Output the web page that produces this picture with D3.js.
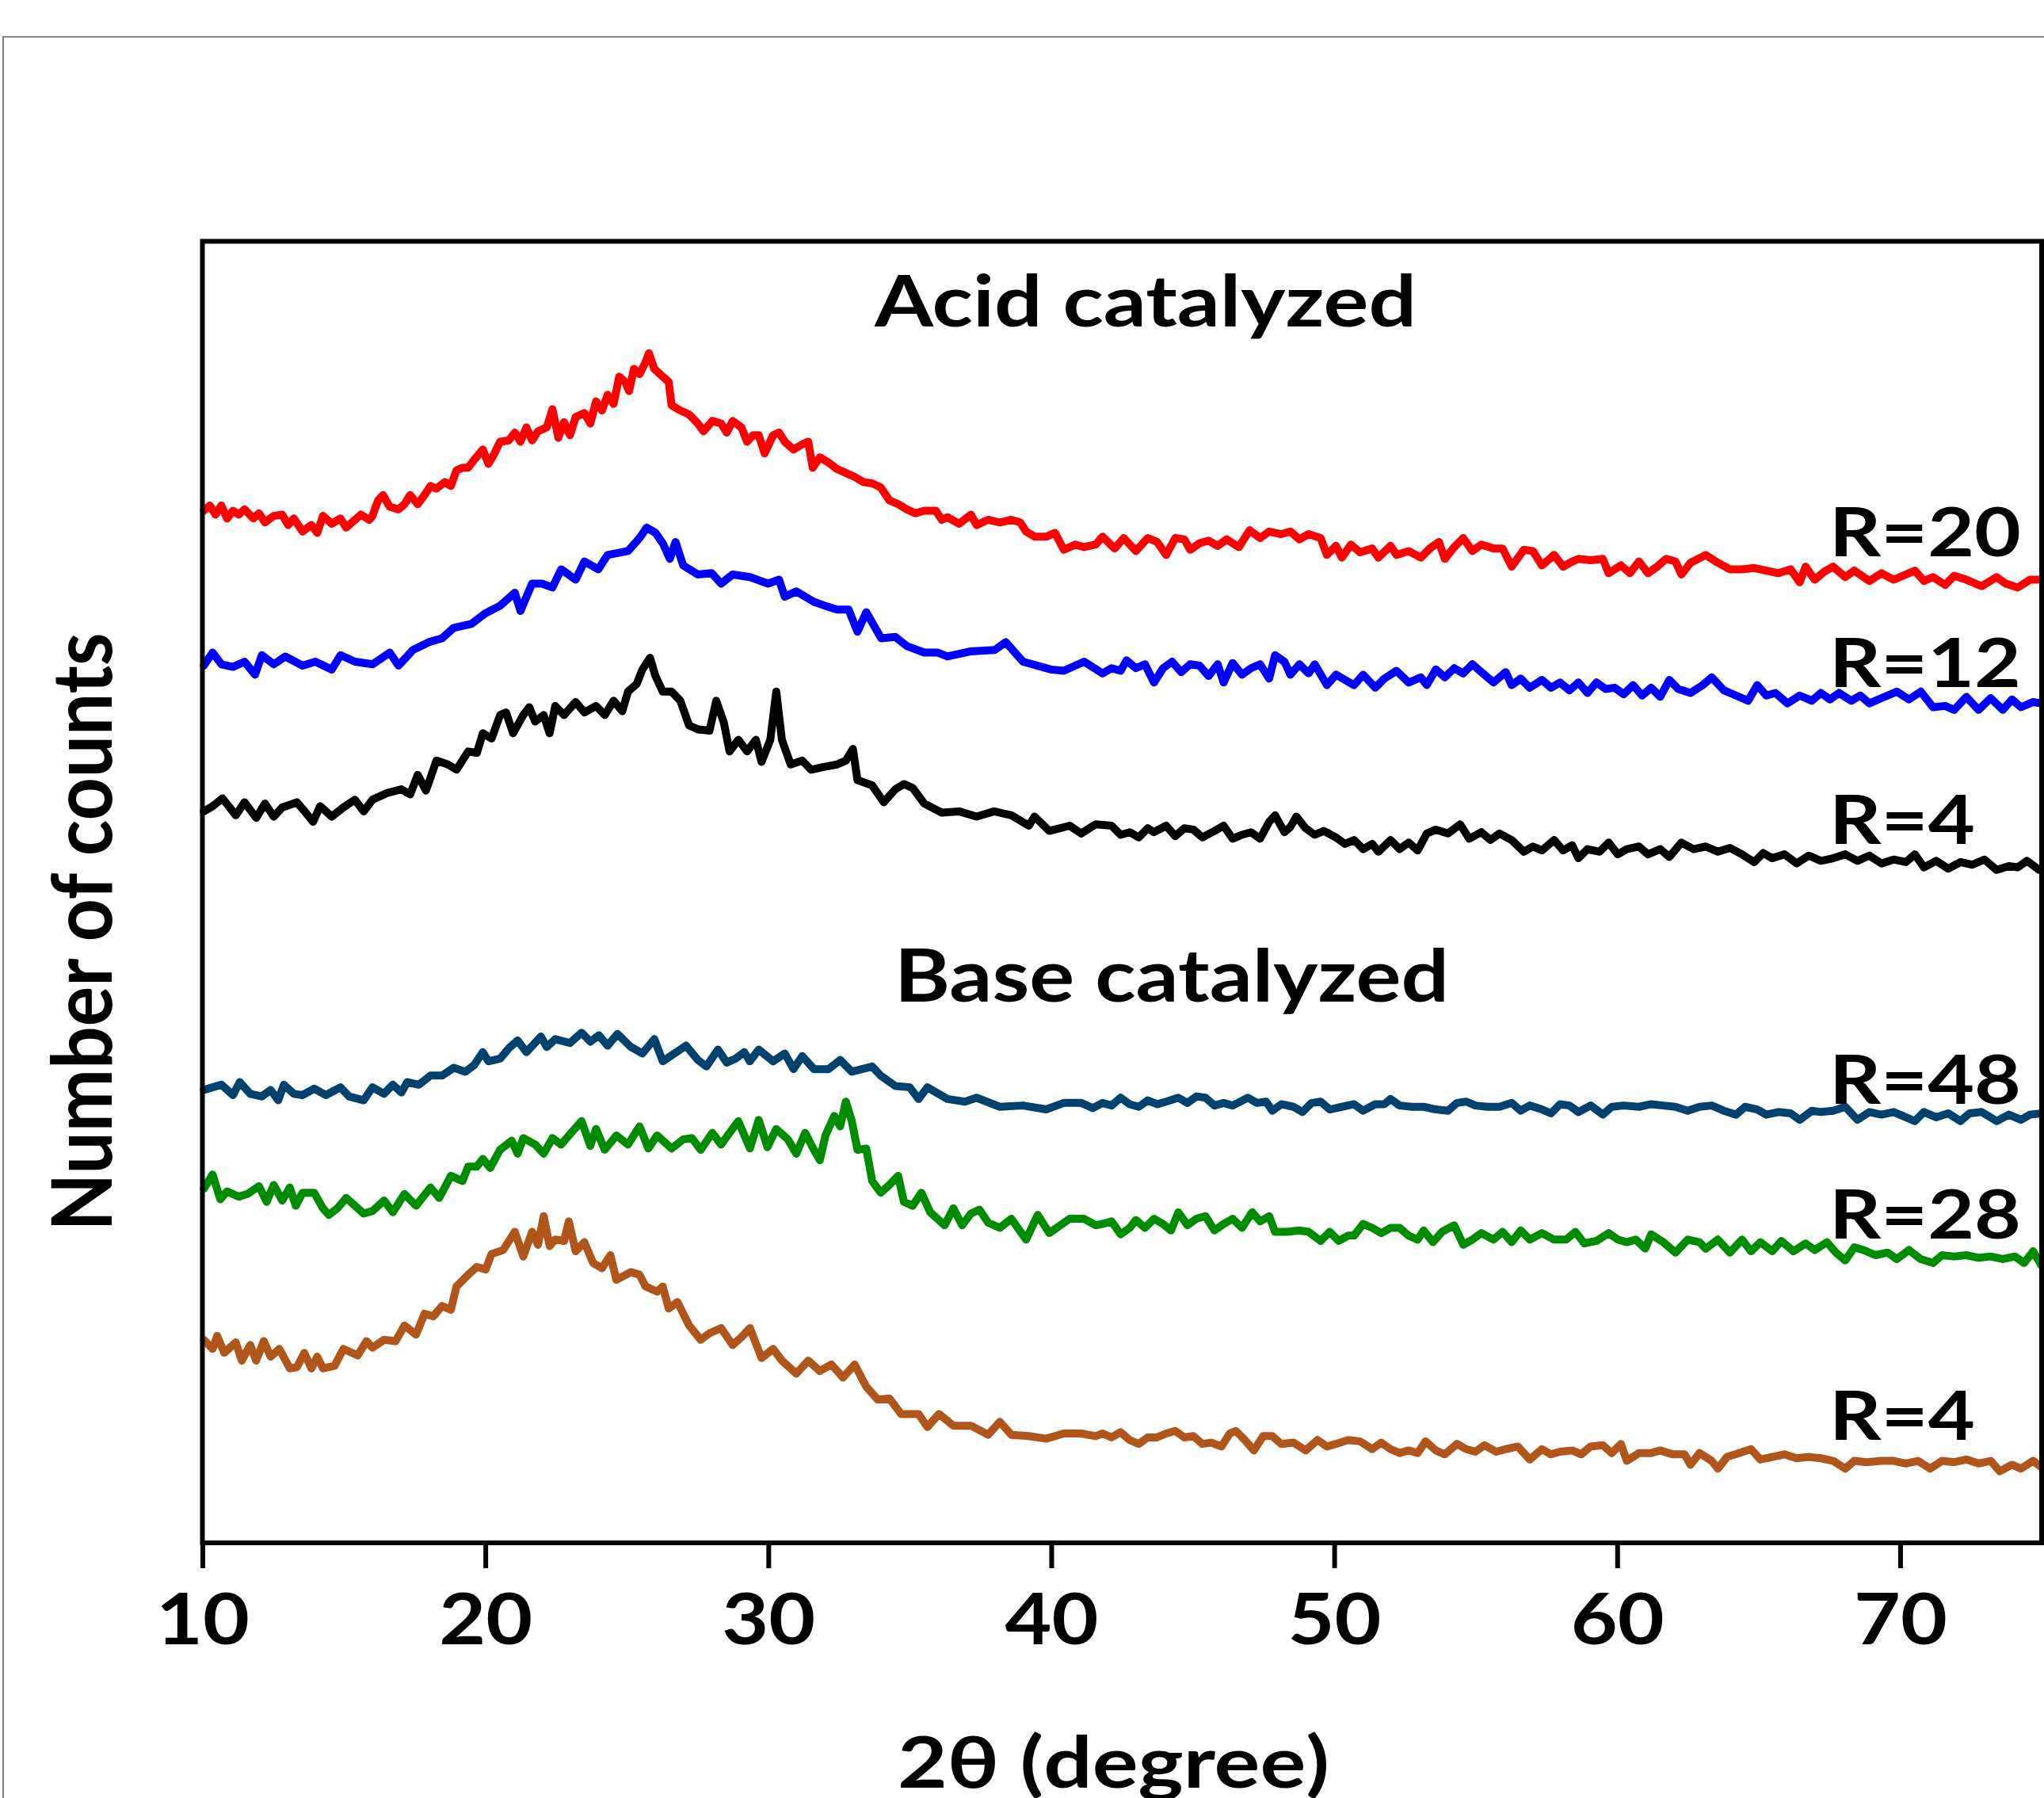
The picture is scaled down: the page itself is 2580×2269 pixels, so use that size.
<!DOCTYPE html>
<html>
<head>
<meta charset="utf-8">
<script src="https://cdn.jsdelivr.net/npm/d3@7/dist/d3.min.js"></script>
<style>
  html, body { margin: 0; padding: 0; background: #fff; }
  svg { display: block; }
  text { font-family: Lato, "Open Sans", "DejaVu Sans", sans-serif; font-weight: bold; fill: #000; }
</style>
</head>
<body>
<svg id="chart"></svg>
<script>
// ---- data (2theta in degree, counts in arbitrary stacked units) ----
const xTicks = [10, 20, 30, 40, 50, 60, 70];
const seriesNames = ['R=20', 'R=12', 'R=4', 'R=48', 'R=28', 'R=4'];
const groupTitles = ['Acid catalyzed', 'Base catalyzed'];

const acidR20 = [[10.05,793],[10.26,797],[10.46,790],[10.67,797],[10.87,787],[11.08,793],[11.28,790],[11.49,794],[11.80,787],[12.00,791],[12.21,784],[12.52,789],[12.82,790],[13.03,782],[13.23,787],[13.54,777],[13.85,782],[14.06,776],[14.26,789],[14.57,783],[14.88,787],[15.08,780],[15.29,784],[15.60,790],[15.90,786],[16.01,789],[16.21,801],[16.38,805],[16.62,796],[16.93,794],[17.14,798],[17.34,805],[17.61,798],[17.85,805],[18.06,812],[18.27,810],[18.57,815],[18.78,812],[18.98,824],[19.19,826],[19.39,826],[19.60,832],[19.91,840],[20.11,829],[20.32,837],[20.52,846],[20.83,847],[21.04,853],[21.24,846],[21.45,857],[21.65,847],[21.86,854],[22.17,857],[22.37,871],[22.58,849],[22.78,861],[22.99,851],[23.19,865],[23.50,868],[23.71,860],[23.91,877],[24.12,870],[24.32,882],[24.53,875],[24.73,896],[24.94,892],[25.08,885],[25.25,902],[25.45,898],[25.66,907],[25.78,914],[25.97,902],[26.27,896],[26.48,892],[26.58,874],[26.89,870],[27.20,867],[27.51,860],[27.71,854],[28.02,862],[28.33,860],[28.53,853],[28.74,862],[29.05,857],[29.25,846],[29.46,851],[29.66,851],[29.87,837],[30.17,851],[30.38,853],[30.58,846],[30.89,840],[31.20,844],[31.41,846],[31.57,826],[31.82,834],[32.13,830],[32.43,825],[32.74,822],[33.05,819],[33.36,815],[33.67,814],[33.97,811],[34.28,801],[34.59,798],[34.90,794],[35.20,791],[35.51,793],[35.92,793],[36.13,786],[36.33,788],[36.74,783],[37.16,790],[37.36,782],[37.77,786],[38.18,784],[38.59,786],[38.90,784],[39.11,777],[39.41,773],[39.82,773],[40.13,776],[40.44,763],[40.85,767],[41.16,765],[41.57,767],
  [41.81,773],[42.24,764],[42.56,772],[42.99,762],[43.41,772],[43.74,769],[44.06,759],[44.38,772],[44.70,771],[44.91,763],[45.24,768],[45.56,770],[45.88,766],[46.20,771],[46.63,765],[47.01,778],[47.38,772],[47.70,777],[48.13,775],[48.45,777],[48.77,771],[49.09,775],[49.52,772],[49.74,759],[50.06,766],[50.27,757],[50.59,767],[50.91,761],[51.34,764],[51.56,757],[51.99,766],[52.20,759],[52.63,762],[53.06,757],[53.38,764],[53.70,769],[53.91,756],[54.24,765],[54.56,772],[54.88,762],[55.20,767],[55.63,764],[55.95,764],[56.27,750],[56.70,763],[57.02,762],[57.34,751],[57.77,759],[58.09,750],[58.41,754],[58.63,756],[59.06,755],[59.49,756],[59.70,745],[60.13,751],[60.45,745],[60.77,754],[61.09,745],[61.41,750],[61.73,756],[62.06,754],[62.27,744],[62.59,753],[63.13,759],[63.56,753],[63.98,748],[64.41,748],[64.84,749],[65.27,747],[65.70,745],[66.13,748],[66.45,738],[66.66,750],[66.98,740],[67.31,746],[67.63,750],[68.06,742],[68.38,747],[68.91,739],[69.34,745],[69.77,740],[70.20,744],[70.52,747],[70.84,739],[71.16,742],[71.59,736],[71.91,743],[72.34,740],[72.88,735],[73.41,742],[73.73,737],[74.16,734],[74.59,740],[75.00,740]];

const acidR12 = [[10.05,674],[10.36,684],[10.67,675],[11.08,673],[11.49,677],[11.86,667],[12.10,682],[12.52,675],[12.93,681],[13.54,674],[13.99,677],[14.57,671],[14.88,682],[15.39,677],[16.01,675],[16.62,684],[16.93,674],[17.44,686],[18.00,692],[18.47,695],[18.88,703],[19.50,706],[19.99,714],[20.52,720],[21.04,730],[21.24,716],[21.65,737],[22.00,737],[22.37,734],[22.68,748],[23.19,740],[23.50,754],[23.99,748],[24.32,759],[25.04,762],[25.45,772],[25.70,780],[26.01,776],[26.27,768],[26.52,756],[26.72,769],[26.99,751],[27.51,744],[28.00,745],[28.33,737],[28.74,744],[29.35,742],[29.99,737],[30.38,740],[30.58,727],[30.99,731],[31.61,723],[32.00,720],[32.43,717],[32.84,717],[33.15,700],[33.46,715],[33.99,695],[34.49,696],[34.90,689],[35.51,684],[35.99,684],[36.33,681],[37.16,685],[38.00,686],[38.39,692],[39.00,677],[39.99,671],[40.44,670],[41.16,677],
  [41.81,668],[42.13,672],[42.45,670],[42.66,678],[42.99,672],[43.31,675],[43.63,661],[43.95,672],[44.27,677],[44.59,669],[44.91,675],[45.24,674],[45.56,666],[45.88,675],[46.09,661],[46.41,676],[46.74,667],[47.06,672],[47.38,675],[47.70,664],[47.91,682],[48.24,677],[48.45,667],[48.77,675],[49.09,668],[49.31,675],[49.74,659],[50.06,667],[50.38,663],[50.70,659],[51.02,667],[51.45,657],[51.77,664],[52.20,670],[52.63,661],[53.06,665],[53.27,659],[53.59,671],[53.91,665],[54.24,672],[54.56,668],[54.88,675],[55.31,667],[55.63,661],[56.06,669],[56.27,659],[56.59,664],[56.91,657],[57.34,663],[57.66,657],[57.98,661],[58.31,655],[58.63,661],[58.95,653],[59.27,661],[59.59,656],[59.91,657],[60.23,652],[60.56,659],[60.88,651],[61.20,657],[61.52,650],[61.84,663],[62.16,656],[62.59,653],[63.02,659],[63.34,665],[63.77,655],[64.20,651],[64.63,647],[64.95,659],[65.27,651],[65.59,653],[66.02,645],[66.45,651],[66.88,647],[67.20,653],[67.52,648],[67.84,653],[68.27,647],[68.59,651],[68.91,645],[69.34,649],[69.88,654],[70.31,648],[70.73,654],[71.16,642],[71.59,643],[71.91,640],[72.34,650],[72.77,640],[73.20,649],[73.63,640],[73.95,648],[74.27,642],[74.70,646],[75.00,645]];

const acidR4 = [[10.05,562],[10.36,566],[10.71,572],[11.18,559],[11.49,569],[11.90,557],[12.21,568],[12.52,558],[12.82,565],[13.34,569],[13.65,561],[13.91,554],[14.16,566],[14.57,558],[14.98,565],[15.39,571],[15.70,562],[16.01,571],[16.52,576],[17.03,579],[17.34,575],[17.61,590],[17.90,578],[18.27,601],[18.68,598],[18.98,594],[19.39,608],[19.70,607],[19.91,622],[20.22,618],[20.52,636],[20.73,638],[20.98,622],[21.34,636],[21.55,642],[21.76,631],[22.06,636],[22.27,622],[22.47,643],[22.78,636],[23.19,646],[23.50,638],[23.91,643],[24.22,636],[24.53,647],[24.84,639],[25.04,654],[25.35,660],[25.55,671],[25.82,680],[26.01,666],[26.27,654],[26.58,654],[26.89,647],[27.20,628],[27.51,625],[27.92,624],[28.16,647],[28.43,630],[28.63,608],[28.94,617],[29.25,608],[29.56,617],[29.76,600],[30.07,617],[30.28,654],[30.48,617],[30.79,598],[31.20,601],[31.51,594],[31.92,596],[32.43,598],[32.74,601],[32.99,610],[33.15,586],[33.67,582],[34.08,569],[34.49,579],[34.79,583],[35.10,580],[35.51,568],[36.13,561],[36.74,562],[37.36,558],[37.98,562],[38.59,559],[39.21,551],[39.41,558],[39.93,547],[40.65,551],[41.06,545],[41.57,552],
  [42.13,551],[42.45,544],[42.77,546],[43.09,542],[43.41,549],[43.63,546],[44.06,551],[44.38,543],[44.70,549],[45.02,548],[45.34,542],[45.77,547],[46.09,551],[46.41,541],[46.74,544],[47.06,546],[47.38,541],[47.70,554],[47.91,559],[48.24,546],[48.45,550],[48.66,558],[48.99,549],[49.31,544],[49.63,547],[50.06,542],[50.38,537],[50.70,540],[51.02,533],[51.34,537],[51.56,531],[51.99,540],[52.31,533],[52.63,538],[52.95,532],[53.27,545],[53.59,548],[54.02,545],[54.45,552],[54.77,541],[55.20,546],[55.52,540],[55.84,545],[56.27,540],[56.70,531],[57.02,535],[57.34,532],[57.77,540],[58.09,532],[58.41,536],[58.63,526],[58.95,533],[59.38,531],[59.70,538],[60.02,529],[60.34,533],[60.77,535],[61.09,529],[61.52,533],[61.84,527],[62.27,538],[62.70,533],[63.13,535],[63.56,531],[63.98,534],[64.41,529],[64.84,523],[65.16,530],[65.48,526],[65.91,529],[66.34,522],[66.77,528],[67.20,524],[67.63,526],[68.06,529],[68.49,524],[68.91,528],[69.34,522],[69.77,525],[70.20,523],[70.52,529],[70.84,519],[71.27,524],[71.70,518],[72.13,523],[72.55,521],[72.98,525],[73.41,517],[73.84,520],[74.16,519],[74.48,524],[74.91,517]];

const baseR48 = [[10.05,348],[10.36,350],[10.67,352],[11.08,344],[11.32,354],[11.69,345],[12.10,343],[12.41,348],[12.68,340],[12.88,352],[13.23,345],[13.54,344],[13.95,349],[14.36,344],[14.88,350],[15.18,343],[15.70,340],[16.01,350],[16.42,345],[16.73,352],[17.03,346],[17.24,354],[17.65,352],[18.06,359],[18.47,359],[18.88,365],[19.29,362],[19.60,367],[19.91,377],[20.11,370],[20.52,372],[20.83,380],[21.14,386],[21.45,377],[21.96,389],[22.17,381],[22.47,387],[22.99,384],[23.40,392],[23.71,385],[24.01,390],[24.32,382],[24.67,391],[25.14,381],[25.55,376],[25.97,387],[26.27,370],[26.68,376],[27.09,382],[27.51,371],[27.81,366],[28.22,379],[28.53,369],[28.84,372],[29.15,377],[29.35,370],[29.66,379],[30.17,370],[30.58,376],[30.89,364],[31.20,374],[31.61,364],[32.13,364],[32.54,371],[32.95,362],[33.67,366],[33.97,359],[34.49,351],[35.00,350],[35.31,341],[35.62,350],[36.33,341],[36.95,339],[37.36,342],[38.18,335],[39.00,336],[39.82,333],[40.44,338],[41.06,338],[41.47,334],
  [41.81,338],[42.13,336],[42.45,342],[42.77,337],[43.09,335],[43.41,340],[43.74,337],[44.06,339],[44.49,342],[44.81,338],[45.13,343],[45.45,342],[45.77,336],[46.09,338],[46.41,336],[46.95,342],[47.27,338],[47.59,339],[47.81,332],[48.13,337],[48.56,335],[48.88,331],[49.20,338],[49.52,339],[49.84,333],[50.27,335],[50.70,337],[51.02,332],[51.45,337],[51.77,337],[51.99,341],[52.31,336],[52.74,335],[53.16,335],[53.59,333],[54.02,332],[54.34,338],[54.66,339],[54.99,336],[55.41,335],[55.84,335],[56.27,338],[56.59,332],[56.91,336],[57.34,333],[57.66,330],[57.98,337],[58.31,336],[58.63,331],[59.06,336],[59.49,329],[59.81,335],[60.23,336],[60.77,335],[61.20,337],[61.63,336],[62.06,335],[62.49,332],[62.91,335],[63.34,336],[63.77,332],[64.20,329],[64.52,335],[64.95,333],[65.27,329],[65.70,331],[66.13,330],[66.45,325],[66.88,332],[67.20,331],[67.63,332],[68.06,335],[68.49,325],[68.91,331],[69.34,329],[69.77,331],[70.20,327],[70.52,324],[70.84,331],[71.27,327],[71.70,330],[72.13,324],[72.45,330],[72.88,331],[73.41,324],[73.84,329],[74.27,325],[74.59,329],[75.00,330]];

const baseR28 = [[10.05,272],[10.36,283],[10.63,264],[10.87,270],[11.28,266],[11.59,268],[12.00,274],[12.27,262],[12.52,275],[12.82,263],[13.09,273],[13.30,259],[13.54,269],[13.95,269],[14.26,257],[14.47,252],[14.77,257],[15.08,265],[15.39,259],[15.70,253],[16.01,255],[16.42,263],[16.73,254],[17.14,268],[17.55,259],[18.06,273],[18.37,265],[18.78,282],[19.19,278],[19.39,289],[19.70,289],[19.91,295],[20.17,288],[20.52,302],[20.93,309],[21.14,299],[21.34,311],[21.76,306],[22.06,299],[22.37,311],[22.68,306],[22.99,314],[23.40,324],[23.71,305],[23.91,318],[24.22,302],[24.63,313],[25.04,306],[25.45,320],[25.76,303],[26.07,313],[26.58,303],[26.99,310],[27.30,311],[27.61,302],[28.02,315],[28.33,306],[28.63,315],[28.94,324],[29.35,303],[29.66,325],[29.97,304],[30.28,318],[30.69,310],[30.99,299],[31.30,315],[31.61,302],[31.82,294],[32.02,313],[32.33,328],[32.54,320],[32.74,339],[32.95,324],[33.15,302],[33.46,303],[33.67,278],[33.97,269],[34.28,275],[34.59,282],[34.79,262],[35.10,259],[35.41,269],[35.72,254],[36.23,244],[36.54,257],[36.85,244],[37.16,253],[37.46,256],[37.77,246],[38.18,242],[38.59,249],[39.11,233],[39.52,252],[39.93,238],[40.65,249],[41.16,249],[41.57,244],
  [41.81,245],[42.13,247],[42.45,237],[42.77,242],[42.99,248],[43.31,242],[43.63,249],[43.95,245],[44.23,240],[44.49,254],[44.81,244],[45.13,249],[45.45,251],[45.77,240],[46.09,245],[46.41,249],[46.74,242],[47.10,254],[47.38,247],[47.70,251],[47.91,239],[48.34,239],[48.77,240],[49.09,239],[49.52,232],[49.84,239],[50.16,232],[50.49,236],[50.70,236],[51.02,245],[51.34,242],[51.66,238],[51.99,242],[52.31,242],[52.63,236],[52.95,233],[53.16,240],[53.49,231],[53.81,239],[54.24,244],[54.56,229],[54.88,233],[55.20,238],[55.63,233],[55.95,239],[56.27,231],[56.59,240],[56.91,233],[57.34,238],[57.77,233],[58.20,233],[58.52,239],[58.84,230],[59.27,232],[59.70,238],[60.02,233],[60.34,231],[60.66,233],[60.99,226],[61.20,237],[61.63,231],[62.06,223],[62.49,233],[62.91,231],[63.13,226],[63.56,233],[63.98,223],[64.41,233],[64.73,224],[65.06,231],[65.48,224],[65.80,232],[66.23,224],[66.66,230],[66.98,225],[67.41,231],[67.73,223],[68.06,217],[68.38,227],[68.70,225],[69.13,221],[69.56,223],[69.88,218],[70.31,225],[70.73,218],[71.16,215],[71.48,221],[71.91,220],[72.34,221],[72.77,219],[73.20,220],[73.63,218],[74.06,220],[74.38,215],[74.70,224],[75.00,213]];

const baseR4 = [[10.05,156],[10.36,149],[10.52,159],[10.77,146],[11.18,154],[11.39,140],[11.69,152],[11.90,140],[12.17,155],[12.41,143],[12.72,149],[13.09,134],[13.34,135],[13.60,146],[13.85,134],[14.06,143],[14.26,134],[14.67,136],[14.98,149],[15.49,144],[15.80,155],[16.01,150],[16.42,156],[16.83,155],[17.14,167],[17.55,160],[17.85,176],[18.16,174],[18.47,182],[18.78,179],[18.98,197],[19.39,206],[19.70,212],[20.01,210],[20.22,222],[20.63,225],[21.04,239],[21.34,220],[21.65,239],[21.86,229],[22.06,251],[22.27,228],[22.47,233],[22.78,232],[22.95,247],[23.19,224],[23.50,231],[23.81,215],[24.12,211],[24.42,221],[24.63,202],[25.14,208],[25.45,206],[25.66,197],[26.07,193],[26.27,197],[26.48,180],[26.79,185],[27.20,167],[27.61,156],[27.92,161],[28.33,165],[28.74,152],[29.05,158],[29.35,165],[29.76,142],[30.17,149],[30.48,140],[30.99,130],[31.41,140],[31.82,132],[32.23,137],[32.64,127],[33.05,137],[33.46,120],[33.87,110],[34.28,111],[34.69,99],[35.31,99],[35.62,89],[36.03,99],[36.54,90],[37.16,90],[37.77,83],[38.18,93],[38.59,83],[39.21,82],[39.82,80],[40.44,84],[41.06,84],[41.57,82],
  [41.81,84],[42.13,81],[42.45,85],[42.77,79],[43.09,76],[43.41,81],[43.74,81],[44.06,84],[44.38,86],[44.70,81],[45.02,82],[45.34,76],[45.66,77],[46.01,74],[46.31,84],[46.52,86],[46.84,79],[47.16,71],[47.49,82],[47.81,82],[48.13,76],[48.56,77],[48.99,71],[49.41,79],[49.74,74],[50.06,76],[50.49,79],[50.91,78],[51.34,72],[51.66,77],[51.99,72],[52.31,69],[52.63,71],[52.95,69],[53.23,78],[53.59,71],[53.91,68],[54.34,76],[54.66,72],[54.99,70],[55.31,75],[55.73,70],[56.06,72],[56.49,74],[56.91,64],[57.34,72],[57.66,68],[57.98,70],[58.41,71],[58.73,68],[59.06,74],[59.49,75],[59.81,69],[60.13,76],[60.34,63],[60.77,69],[61.20,69],[61.52,71],[61.95,68],[62.38,68],[62.59,60],[62.91,69],[63.34,63],[63.56,57],[63.88,66],[64.31,69],[64.73,72],[65.06,64],[65.48,66],[65.91,68],[66.34,65],[66.77,66],[67.20,65],[67.63,63],[68.06,57],[68.38,63],[68.81,62],[69.34,63],[69.77,63],[70.20,61],[70.63,63],[71.06,57],[71.48,63],[71.91,62],[72.34,64],[72.77,61],[73.20,63],[73.52,55],[73.95,60],[74.27,57],[74.70,63],[75.00,58]];

const seriesValues = [acidR20, acidR12, acidR4, baseR48, baseR28, baseR4];

// ---- layout / style ----
const W = 2580, H = 2269;
const frame = { left: 255.5, right: 2577, top: 304.5, bottom: 1947 };
const colors = ['#ff0000', '#0000ff', '#000000', '#00426e', '#008c00', '#b0561a'];
// label baselines in data units, sitting just above each trace end
const labelLevels = [758, 657.5, 537, 337, 234, 79];
const titleLevels = [934.6, 415.8];

const svg = d3.select('#chart').attr('width', W).attr('height', H);

// thin outer border (only top/left visible in the original)
svg.append('rect')
  .attr('x', 4).attr('y', 46.5)
  .attr('width', 3000).attr('height', 3000)
  .attr('fill', 'none')
  .attr('stroke', '#555')
  .attr('stroke-width', 1.5);

const x = d3.scaleLinear().domain([10, 75]).range([frame.left, frame.right]);
const y = d3.scaleLinear().domain([0, 1000]).range([frame.bottom, frame.top]);

// traces
const line = d3.line().x(d => x(d[0])).y(d => y(d[1]));

svg.append('g').selectAll('path')
  .data(seriesValues).enter().append('path')
  .attr('d', line)
  .attr('fill', 'none')
  .attr('stroke', (d, i) => colors[i])
  .attr('stroke-width', 10)
  .attr('stroke-linejoin', 'round')
  .attr('stroke-linecap', 'round');

// plot frame
svg.append('rect')
  .attr('x', frame.left).attr('y', frame.top)
  .attr('width', frame.right - frame.left)
  .attr('height', frame.bottom - frame.top)
  .attr('fill', 'none')
  .attr('stroke', '#000')
  .attr('stroke-width', 6);

// x axis
const xAxis = svg.append('g')
  .attr('transform', `translate(0,${frame.bottom})`)
  .call(d3.axisBottom(x).tickValues(xTicks).tickSize(32).tickFormat(d3.format('d')));

xAxis.select('.domain').remove();
xAxis.selectAll('.tick line').attr('stroke', '#000').attr('stroke-width', 6);
xAxis.selectAll('.tick text')
  .attr('y', 128).attr('dy', 0)
  .attr('font-size', 90)
  .attr('textLength', 118)
  .attr('lengthAdjust', 'spacingAndGlyphs')
  .attr('fill', '#000')
  .style('font-family', 'Lato, "Open Sans", sans-serif')
  .style('font-weight', 'bold');

// axis titles
svg.append('text')
  .attr('x', 1133).attr('y', 2256)
  .attr('font-size', 90)
  .attr('textLength', 545)
  .attr('lengthAdjust', 'spacingAndGlyphs')
  .text('2θ (degree)');

svg.append('text')
  .attr('transform', 'translate(141,1176) rotate(-90)')
  .attr('text-anchor', 'middle')
  .attr('font-size', 105)
  .attr('textLength', 755)
  .attr('lengthAdjust', 'spacingAndGlyphs')
  .text('Number of counts');

// group titles
const titleX = [1104, 1129];
const titleLen = [684, 700];
svg.append('g').selectAll('text')
  .data(groupTitles).enter().append('text')
  .attr('x', (d, i) => titleX[i])
  .attr('y', (d, i) => y(titleLevels[i]))
  .attr('font-size', (d, i) => i == 0 ? 90 : 92)
  .attr('textLength', (d, i) => titleLen[i])
  .attr('lengthAdjust', 'spacingAndGlyphs')
  .text(d => d);

// series labels
svg.append('g').selectAll('text')
  .data(seriesNames).enter().append('text')
  .attr('x', 2309)
  .attr('y', (d, i) => y(labelLevels[i]))
  .attr('font-size', 87)
  .attr('textLength', d => d.length == 4 ? 242 : 184)
  .attr('lengthAdjust', 'spacingAndGlyphs')
  .text(d => d);
</script>
</body>
</html>
